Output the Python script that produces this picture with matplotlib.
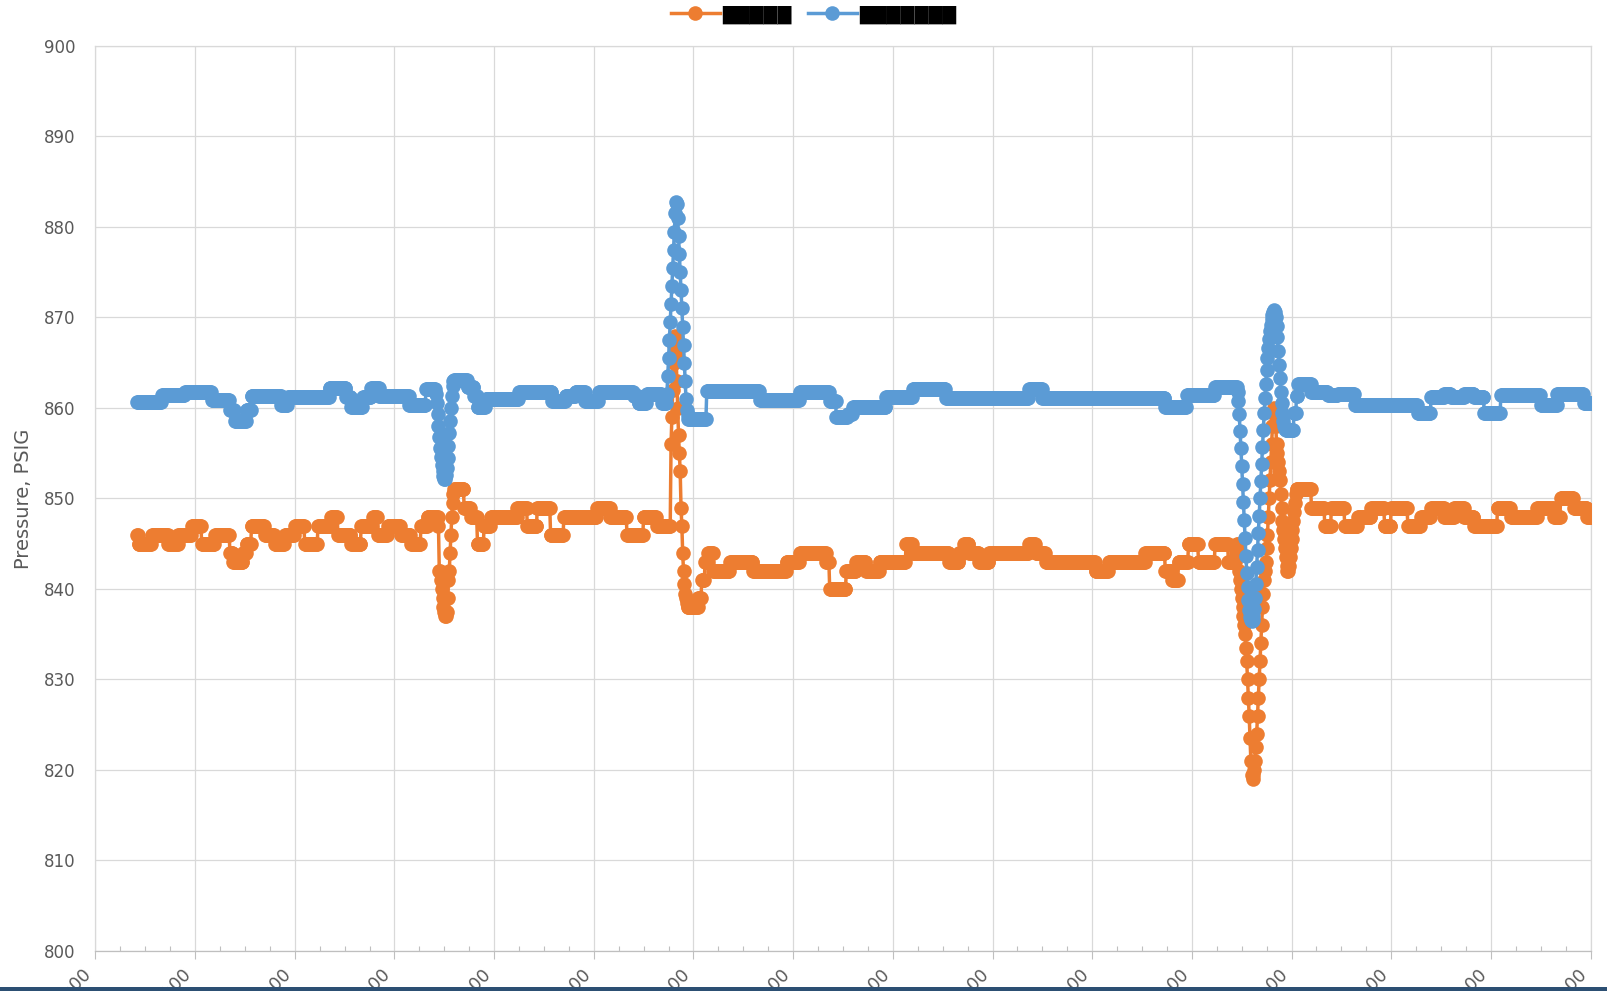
import numpy as np
import matplotlib
matplotlib.use("Agg")
import matplotlib.pyplot as plt
from matplotlib.lines import Line2D
from matplotlib.patches import Rectangle

# ---------------- data (minutes from first gridline, 30 s samples) ----------------
t_start, t_end, t_step = 25.0, 900.0, 0.5

x_tick_minutes = [0, 60, 120, 180, 240, 300, 360, 420, 480, 540, 600, 660, 720, 780, 840, 900]
x_tick_labels = ["6:00", "7:00", "8:00", "9:00", "10:00", "11:00", "12:00", "13:00",
                 "14:00", "15:00", "16:00", "17:00", "18:00", "19:00", "20:00", "21:00"]
y_ticks = [800, 810, 820, 830, 840, 850, 860, 870, 880, 890, 900]

legend_labels = ["\u2588\u2588\u2588\u2588\u2588", "\u2588\u2588\u2588\u2588\u2588\u2588\u2588"]

# orange series: held levels (start minute, psig)
orange_steps = [
    (25, 846), (26, 845), (34, 846), (44, 845), (50, 846), (58, 847), (64, 845), (72, 846),
    (81, 844), (83, 843), (89, 844), (91, 845), (94, 847), (102, 846), (108, 845), (114, 846),
    (120, 847), (126, 845), (134, 847), (142, 848), (146, 846), (154, 845), (160, 847),
    (167, 848), (170, 846), (176, 847), (184, 846), (190, 845), (196, 847), (200, 848),
    (216, 851), (222, 849), (226, 848), (230, 845), (234, 847), (238, 848), (254, 849),
    (260, 847), (266, 849), (274, 846), (282, 848), (302, 849), (310, 848), (320, 846),
    (330, 848), (338, 847),
    (357.5, 838), (363, 839), (365, 841), (367, 843), (369, 844), (372, 842), (382, 843),
    (396, 842), (416, 843), (424, 844), (440, 843), (442, 840), (452, 842), (458, 843),
    (464, 842), (472, 843), (488, 845), (492, 844), (514, 843), (520, 844), (523, 845),
    (526, 844), (532, 843), (538, 844), (562, 845), (566, 844), (572, 843), (602, 842),
    (610, 843), (632, 844), (644, 842), (648, 841), (652, 843), (658, 845), (664, 843),
    (674, 845), (682, 843),
    (723, 851), (732, 849), (740, 847), (744, 849), (752, 847), (760, 848), (768, 849),
    (776, 847), (780, 849), (790, 847), (798, 848), (804, 849), (812, 848), (818, 849),
    (824, 848), (830, 847), (844, 849), (852, 848), (868, 849), (878, 848), (882, 850),
    (890, 849), (898, 848),
]
# orange transients, one value per 30 s sample from the given start minute
orange_spikes = [
    (206.0, [848, 847, 842, 842, 841, 840, 839, 838, 837.5, 837, 837, 837.5, 839, 841,
             842, 844, 846, 848, 849.5, 850.5]),
    (346.0, [847, 856, 859, 862, 865, 867, 868, 866, 863, 860, 857, 855, 853, 849, 847,
             844, 842, 840.5, 839.5, 839, 838.5, 838, 838]),
    (686.0, [843, 844, 845, 845, 844, 842, 841, 840, 839, 838,
             837, 836, 835, 833.5, 832, 830, 828, 826, 823.5, 821,
             819.5, 819, 819.5, 820, 821, 822.5, 824, 826, 828, 830,
             832, 834, 836, 838, 839.5, 841, 842, 843, 844.5, 846,
             848, 850, 852, 854, 856, 858, 859.5, 860, 859.5, 858,
             856, 855, 854, 853, 852, 850.5, 849, 847.5, 846.5, 845.5,
             844.5, 843.5, 842.5, 842, 842, 842.5, 843.5, 844.5, 845.5, 846.5,
             847.5, 848.5, 849.5, 850.5]),
]

# blue series
blue_steps = [
    (25, 860.7), (40, 861.4), (54, 861.8), (70, 860.9), (81, 859.8), (84, 858.6),
    (91, 859.8), (94, 861.3), (112, 860.3), (116, 861.2), (141, 862.2), (151, 861.2),
    (154, 860.1), (161, 861.2), (166, 862.2), (171, 861.3), (189, 860.3), (199, 862.1),
    (216, 863.1), (224, 862.3), (228, 861.3), (230, 860.1), (235, 861.0), (255, 861.8),
    (275, 860.8), (283, 861.3), (289, 861.8), (295, 860.8), (303, 861.8), (324, 861.3),
    (327, 860.5), (332, 861.6), (341, 860.6),
    (357, 858.8), (368, 861.9), (400, 860.9), (424, 861.8), (442, 860.8), (446, 859.0),
    (453, 859.3), (456, 860.1), (476, 861.2), (492, 862.1), (512, 861.1), (562, 862.1),
    (570, 861.1), (644, 860.1), (657, 861.4), (674, 862.3),
    (716.5, 857.6), (721.5, 859.4), (723, 861.3), (724, 862.7), (732, 861.8), (742, 861.4),
    (748, 861.6), (758, 860.3), (796, 859.4), (804, 861.2), (812, 861.6), (816, 861.2),
    (824, 861.6), (830, 861.2), (836, 859.4), (846, 861.4), (870, 860.3), (880, 861.6),
    (896, 860.5),
]
blue_spikes = [
    (205.0, [861.5, 860.5, 859.3, 858.0, 856.8, 855.6, 854.6, 853.7, 853.0, 852.5, 852.2,
             852.2, 852.6, 853.4, 854.5, 855.8, 857.2, 858.6, 860.0, 861.3, 862.4, 863.0]),
    (344.0, [861.5, 863.5, 865.5, 867.5, 869.5, 871.5, 873.5, 875.5, 877.5, 879.5, 881.5,
             882.8, 882.5, 881.0, 879.0, 877.0, 875.0, 873.0, 871.0, 869.0, 867.0, 865.0,
             863.0, 861.0, 859.8, 859.2]),
    (687.0, [862.3, 861.8, 860.8, 859.3, 857.5, 855.6, 853.6, 851.6, 849.6, 847.6, 845.6,
             843.6, 841.8, 840.2, 838.8, 837.7, 836.9, 836.6,
             836.5, 836.6, 837.0, 837.8, 839.0, 840.6, 842.4, 844.3, 846.2, 848.1, 850.0,
             851.9, 853.8, 855.7, 857.6, 859.4, 861.1, 862.7, 864.2, 865.5, 866.6, 867.6,
             868.5, 869.2, 869.8, 870.3, 870.6, 870.8, 870.6, 870.0, 869.1, 867.8, 866.3,
             864.8, 863.3, 861.8, 860.5, 859.4, 858.6, 858.0, 857.7]),
]

ORANGE = "#ED7D31"
BLUE = "#5B9BD5"
TEXT = "#595959"
GRID = "#D9D9D9"
MS = 10.5
LW = 2.5


def build(steps, spikes):
    t = np.arange(t_start, t_end + t_step / 2, t_step)
    st = np.array([s[0] for s in steps], dtype=float)
    sv = np.array([s[1] for s in steps], dtype=float)
    v = sv[np.searchsorted(st, t, side="right") - 1]
    for start, vals in spikes:
        i0 = int(round((start - t_start) / t_step))
        v[i0:i0 + len(vals)] = vals
    return t, v


t_o, v_o = build(orange_steps, orange_spikes)
t_b, v_b = build(blue_steps, blue_spikes)

# ---------------- figure ----------------
W, H = 1608, 991
fig = plt.figure(figsize=(W / 100, H / 100), dpi=100)
fig.patch.set_facecolor("white")
left, right, top, bottom = 95.4, 1590.6, 46, 951
ax = fig.add_axes([left / W, 1 - bottom / H, (right - left) / W, (bottom - top) / H])

ax.plot(t_o, v_o, color=ORANGE, lw=LW, marker="o", ms=MS, mew=0, zorder=3)
ax.plot(t_b, v_b, color=BLUE, lw=LW, marker="o", ms=MS, mew=0, zorder=4)

ax.set_xlim(0, 900)
ax.set_ylim(800, 900)
ax.set_yticks(y_ticks)
ax.set_xticks(x_tick_minutes)
ax.set_xticks(np.arange(0, 901, 15), minor=True)
ax.set_xticklabels(x_tick_labels, rotation=45, ha="right", va="top",
                   rotation_mode="default", color=TEXT, fontsize=12.5)
ax.tick_params(axis="y", length=0, pad=14.5, labelsize=12, labelcolor=TEXT)
ax.tick_params(axis="x", which="major", direction="out", length=5.8, width=0.8,
               color="#BFBFBF", pad=4)
ax.tick_params(axis="x", which="minor", direction="in", length=3.6, width=0.8,
               color="#BFBFBF")

ax.grid(True, which="major", color=GRID, lw=0.9, zorder=0)
ax.set_axisbelow(True)
for s in ["top", "right", "left"]:
    ax.spines[s].set_color(GRID)
    ax.spines[s].set_linewidth(0.9)
ax.spines["bottom"].set_color("#BFBFBF")
ax.spines["bottom"].set_linewidth(0.9)

ax.set_ylabel("Pressure, PSIG", fontsize=14, color=TEXT)
ax.yaxis.set_label_coords(-0.042, 0.5)

handles = [Line2D([], [], color=ORANGE, lw=LW, marker="o", ms=MS, mew=0),
           Line2D([], [], color=BLUE, lw=LW, marker="o", ms=MS, mew=0)]
fig.legend(handles, legend_labels, loc="center", bbox_to_anchor=(0.506, 0.985),
           ncol=2, frameon=False, fontsize=13, handlelength=2.7, handletextpad=0.15,
           columnspacing=0.9, labelcolor="black")

# dark band along the bottom edge of the screenshot
fig.patches.append(Rectangle((0, 0), 1, 4.5 / H, transform=fig.transFigure,
                             facecolor="#2C4F73", edgecolor="none", zorder=10))

fig.savefig("out.png", dpi=100)
